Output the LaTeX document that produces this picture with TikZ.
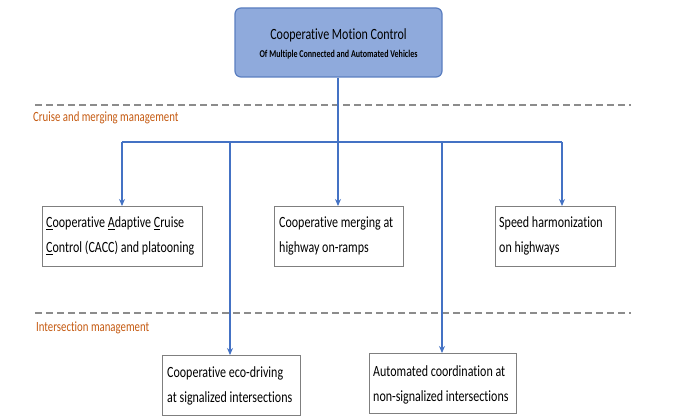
\documentclass[tikz,border=0pt]{standalone}
\usepackage{fontspec}
\usepackage{graphicx}
\setmainfont{Carlito}[Ligatures=NoCommon]
\usetikzlibrary{arrows.meta}
\definecolor{lblue}{HTML}{8FAADC}
\definecolor{dblue}{HTML}{4472C4}
\definecolor{bdr}{HTML}{5A7EC0}
\definecolor{orng}{HTML}{C55A11}
\definecolor{dgray}{HTML}{8C8C8C}
\definecolor{bgray}{HTML}{7F7F7F}
\newcommand{\vs}[1]{\scalebox{1}[1.3]{#1}}
\begin{document}
\begin{tikzpicture}[x=1pt,y=-1pt,
  topbox/.style={draw=bdr,line width=1.2pt,fill=lblue,rounded corners=6pt,inner sep=0pt},
  leaf/.style={draw=bgray,line width=0.7pt,fill=white,inner sep=0pt,anchor=north west},
  leaftext/.style={font=\fontsize{12}{25.5}\selectfont,align=left,anchor=west,inner sep=0pt},
  conn/.style={draw=dblue,line width=1.4pt},
  arr/.style={conn,-{Stealth[length=7pt,width=6pt]}},
  sep/.style={draw=dgray,line width=1.6pt,dash pattern=on 7pt off 4pt},
  sect/.style={text=orng,font=\fontsize{10.8}{12}\selectfont,anchor=west,inner sep=0pt}
]
\useasboundingbox (0,0) rectangle (681,420);
% top box
\node[topbox,minimum width=207pt,minimum height=69pt] (top) at (338.5,42.5) {};
\node[inner sep=0pt] (t1) at (338.5,35) {\fontsize{12}{14}\selectfont\vs{Cooperative Motion Control}};
\node[inner sep=0pt] (t2) at (338.5,55) {\fontsize{8}{9}\selectfont\bfseries\vs{Of Multiple Connected and Automated Vehicles}};
% separators
\coordinate (s1a) at (35,105); \coordinate (s1b) at (631,105);
\coordinate (s2a) at (35,313); \coordinate (s2b) at (631,313);
\draw[sep] (s1a) -- (s1b);
\draw[sep] (s2a) -- (s2b);
\node[sect] (lab1) at (33,118) {\vs{Cruise and merging management}};
\node[sect] (lab2) at (36,328) {\vs{Intersection management}};
% leaf boxes
\node[leaf,minimum width=160pt,minimum height=60pt] (b1) at (42,206) {};
\node[leaftext] (b1t) at (46,236) {\vs{\underline{C}ooperative \underline{A}daptive \underline{C}ruise}\\\vs{\underline{C}ontrol (CACC) and platooning}};
\node[leaf,minimum width=129pt,minimum height=60pt] (b2) at (274,206) {};
\node[leaftext] (b2t) at (279,236) {\vs{Cooperative merging at}\\\vs{highway on-ramps}};
\node[leaf,minimum width=120pt,minimum height=60pt] (b3) at (495,206) {};
\node[leaftext] (b3t) at (499,236) {\vs{Speed harmonization}\\\vs{on highways}};
\node[leaf,minimum width=138pt,minimum height=60pt] (b4) at (162,355) {};
\node[leaftext] (b4t) at (167,386) {\vs{Cooperative eco-driving}\\\vs{at signalized intersections}};
\node[leaf,minimum width=147pt,minimum height=60pt] (b5) at (369,353) {};
\node[leaftext] (b5t) at (373,385) {\vs{Automated coordination at}\\\vs{non-signalized intersections}};
% connectors
\coordinate (j) at (338,142);
\coordinate (hl) at (122,142);
\coordinate (hr) at (562,142);
\coordinate (j2) at (230,142);
\coordinate (j4) at (442,142);
\draw[conn] (top.south -| j) -- (j);
\draw[conn] (hl) -- (hr);
\draw[arr] (hl) -- (hl |- b1.north);
\draw[arr] (j) -- (j |- b2.north);
\draw[arr] (hr) -- (hr |- b3.north);
\draw[arr] (j2) -- (j2 |- b4.north);
\draw[arr] (j4) -- (j4 |- b5.north);
\end{tikzpicture}
\end{document}
